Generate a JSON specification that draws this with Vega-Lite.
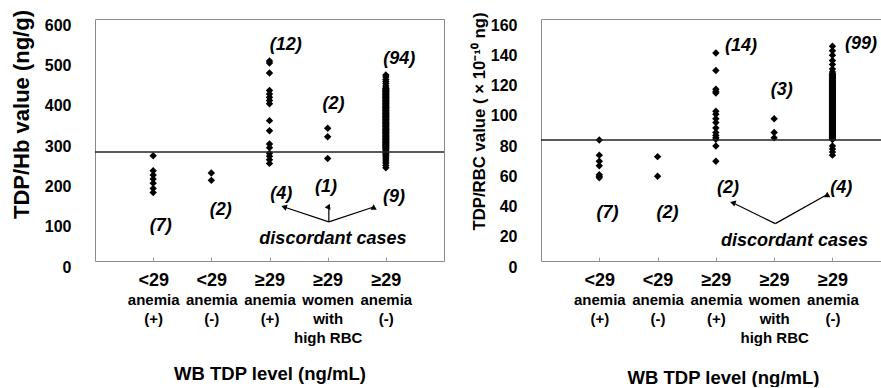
{
  "$schema": "https://vega.github.io/schema/vega-lite/v6.json",
  "padding": {"left": 9, "top": 9, "right": 0, "bottom": 0},
  "background": "white",
  "config": {
    "font": "Liberation Sans",
    "view": {"stroke": "#8a8a8a", "strokeWidth": 1},
    "axisY": {"labelFontSize": 16, "labelFontWeight": "bold", "labelColor": "black", "ticks": false, "domain": false, "grid": false, "labelPadding": 24, "labelOffset": 6, "labelOverlap": false, "labelFlush": false, "labelBound": false, "titleFontWeight": "bold", "titleColor": "black"}
  },
  "bounds": "flush",
  "spacing": 97,
  "datasets": {
    "lp": [
      {"g": 1, "v": 261}, {"g": 1, "v": 224}, {"g": 1, "v": 213}, {"g": 1, "v": 203}, {"g": 1, "v": 193}, {"g": 1, "v": 180}, {"g": 1, "v": 170},
      {"g": 2, "v": 218}, {"g": 2, "v": 200},
      {"g": 3, "v": 496}, {"g": 3, "v": 491}, {"g": 3, "v": 466}, {"g": 3, "v": 423}, {"g": 3, "v": 414}, {"g": 3, "v": 406}, {"g": 3, "v": 398}, {"g": 3, "v": 390}, {"g": 3, "v": 348}, {"g": 3, "v": 323}, {"g": 3, "v": 290}, {"g": 3, "v": 281}, {"g": 3, "v": 267}, {"g": 3, "v": 260}, {"g": 3, "v": 251}, {"g": 3, "v": 242},
      {"g": 4, "v": 329}, {"g": 4, "v": 308}, {"g": 4, "v": 254},
      {"g": 5, "v": 461}, {"g": 5, "v": 456}, {"g": 5, "v": 450}, {"g": 5, "v": 445}, {"g": 5, "v": 440}, {"g": 5, "v": 434},
      {"g": 5, "v": 429}, {"g": 5, "v": 427}, {"g": 5, "v": 426}, {"g": 5, "v": 424}, {"g": 5, "v": 422}, {"g": 5, "v": 420}, {"g": 5, "v": 419}, {"g": 5, "v": 417}, {"g": 5, "v": 415}, {"g": 5, "v": 413},
      {"g": 5, "v": 412}, {"g": 5, "v": 410}, {"g": 5, "v": 408}, {"g": 5, "v": 406}, {"g": 5, "v": 405}, {"g": 5, "v": 403}, {"g": 5, "v": 401}, {"g": 5, "v": 399}, {"g": 5, "v": 397}, {"g": 5, "v": 396},
      {"g": 5, "v": 394}, {"g": 5, "v": 392}, {"g": 5, "v": 390}, {"g": 5, "v": 389}, {"g": 5, "v": 387}, {"g": 5, "v": 385}, {"g": 5, "v": 383}, {"g": 5, "v": 381}, {"g": 5, "v": 380}, {"g": 5, "v": 378},
      {"g": 5, "v": 376}, {"g": 5, "v": 374}, {"g": 5, "v": 373}, {"g": 5, "v": 371}, {"g": 5, "v": 369}, {"g": 5, "v": 367}, {"g": 5, "v": 366}, {"g": 5, "v": 364}, {"g": 5, "v": 362}, {"g": 5, "v": 360},
      {"g": 5, "v": 358}, {"g": 5, "v": 357}, {"g": 5, "v": 355}, {"g": 5, "v": 353}, {"g": 5, "v": 351}, {"g": 5, "v": 350}, {"g": 5, "v": 348}, {"g": 5, "v": 346}, {"g": 5, "v": 344}, {"g": 5, "v": 342},
      {"g": 5, "v": 341}, {"g": 5, "v": 339}, {"g": 5, "v": 337}, {"g": 5, "v": 335}, {"g": 5, "v": 334}, {"g": 5, "v": 332}, {"g": 5, "v": 330}, {"g": 5, "v": 328}, {"g": 5, "v": 326}, {"g": 5, "v": 325},
      {"g": 5, "v": 323}, {"g": 5, "v": 321}, {"g": 5, "v": 319}, {"g": 5, "v": 318}, {"g": 5, "v": 316}, {"g": 5, "v": 314}, {"g": 5, "v": 312}, {"g": 5, "v": 310}, {"g": 5, "v": 309}, {"g": 5, "v": 307},
      {"g": 5, "v": 305}, {"g": 5, "v": 303}, {"g": 5, "v": 302}, {"g": 5, "v": 300}, {"g": 5, "v": 298}, {"g": 5, "v": 296}, {"g": 5, "v": 294}, {"g": 5, "v": 293}, {"g": 5, "v": 291}, {"g": 5, "v": 289},
      {"g": 5, "v": 287}, {"g": 5, "v": 286}, {"g": 5, "v": 284}, {"g": 5, "v": 282}, {"g": 5, "v": 280}, {"g": 5, "v": 278}, {"g": 5, "v": 276}, {"g": 5, "v": 273},
      {"g": 5, "v": 268}, {"g": 5, "v": 265}, {"g": 5, "v": 262}, {"g": 5, "v": 258}, {"g": 5, "v": 253}, {"g": 5, "v": 248}, {"g": 5, "v": 243}, {"g": 5, "v": 237}, {"g": 5, "v": 231}
    ],
    "rp": [
      {"g": 1, "v": 80}, {"g": 1, "v": 70}, {"g": 1, "v": 66}, {"g": 1, "v": 63}, {"g": 1, "v": 57}, {"g": 1, "v": 56}, {"g": 1, "v": 55},
      {"g": 2, "v": 69}, {"g": 2, "v": 56},
      {"g": 3, "v": 137.5}, {"g": 3, "v": 126}, {"g": 3, "v": 113.5}, {"g": 3, "v": 112}, {"g": 3, "v": 111}, {"g": 3, "v": 99}, {"g": 3, "v": 97}, {"g": 3, "v": 94}, {"g": 3, "v": 91.5}, {"g": 3, "v": 88}, {"g": 3, "v": 85}, {"g": 3, "v": 83}, {"g": 3, "v": 81.5}, {"g": 3, "v": 80.5}, {"g": 3, "v": 76}, {"g": 3, "v": 66},
      {"g": 4, "v": 94}, {"g": 4, "v": 85}, {"g": 4, "v": 81.5},
      {"g": 5, "v": 142}, {"g": 5, "v": 139}, {"g": 5, "v": 136}, {"g": 5, "v": 132.5}, {"g": 5, "v": 130}, {"g": 5, "v": 127}, {"g": 5, "v": 125},
      {"g": 5, "v": 123.8}, {"g": 5, "v": 123.3}, {"g": 5, "v": 122.9}, {"g": 5, "v": 122.3}, {"g": 5, "v": 121.9}, {"g": 5, "v": 121.2}, {"g": 5, "v": 120.8}, {"g": 5, "v": 120.3}, {"g": 5, "v": 119.7}, {"g": 5, "v": 119.2},
      {"g": 5, "v": 118.8}, {"g": 5, "v": 118.3}, {"g": 5, "v": 117.9}, {"g": 5, "v": 117.4}, {"g": 5, "v": 116.8}, {"g": 5, "v": 116.4}, {"g": 5, "v": 115.9}, {"g": 5, "v": 115.5}, {"g": 5, "v": 114.9}, {"g": 5, "v": 114.5},
      {"g": 5, "v": 114.1}, {"g": 5, "v": 113.6}, {"g": 5, "v": 113.1}, {"g": 5, "v": 112.7}, {"g": 5, "v": 112.2}, {"g": 5, "v": 111.8}, {"g": 5, "v": 111.3}, {"g": 5, "v": 110.9}, {"g": 5, "v": 110.4}, {"g": 5, "v": 109.9},
      {"g": 5, "v": 109.5}, {"g": 5, "v": 109.1}, {"g": 5, "v": 108.6}, {"g": 5, "v": 108.2}, {"g": 5, "v": 107.7}, {"g": 5, "v": 107.2}, {"g": 5, "v": 106.8}, {"g": 5, "v": 106.3}, {"g": 5, "v": 105.9}, {"g": 5, "v": 105.4},
      {"g": 5, "v": 104.9}, {"g": 5, "v": 104.5}, {"g": 5, "v": 104.1}, {"g": 5, "v": 103.6}, {"g": 5, "v": 103.2}, {"g": 5, "v": 102.7}, {"g": 5, "v": 102.3}, {"g": 5, "v": 101.8}, {"g": 5, "v": 101.4}, {"g": 5, "v": 100.9},
      {"g": 5, "v": 100.4}, {"g": 5, "v": 100}, {"g": 5, "v": 99.5}, {"g": 5, "v": 99.1}, {"g": 5, "v": 98.6}, {"g": 5, "v": 98.2}, {"g": 5, "v": 97.7}, {"g": 5, "v": 97.3}, {"g": 5, "v": 96.8}, {"g": 5, "v": 96.4},
      {"g": 5, "v": 95.9}, {"g": 5, "v": 95.5}, {"g": 5, "v": 95}, {"g": 5, "v": 94.6}, {"g": 5, "v": 94.1}, {"g": 5, "v": 93.7}, {"g": 5, "v": 93.2}, {"g": 5, "v": 92.8}, {"g": 5, "v": 92.3}, {"g": 5, "v": 91.9},
      {"g": 5, "v": 91.4}, {"g": 5, "v": 91}, {"g": 5, "v": 90.5}, {"g": 5, "v": 90.1}, {"g": 5, "v": 89.6}, {"g": 5, "v": 89.2}, {"g": 5, "v": 88.7}, {"g": 5, "v": 88.3}, {"g": 5, "v": 87.8}, {"g": 5, "v": 87.4},
      {"g": 5, "v": 86.9}, {"g": 5, "v": 86.5}, {"g": 5, "v": 86}, {"g": 5, "v": 85.6}, {"g": 5, "v": 85.1}, {"g": 5, "v": 84.7}, {"g": 5, "v": 84.2}, {"g": 5, "v": 83.8}, {"g": 5, "v": 83.3}, {"g": 5, "v": 82.9},
      {"g": 5, "v": 82.4}, {"g": 5, "v": 82}, {"g": 5, "v": 81.6}, {"g": 5, "v": 81.1}, {"g": 5, "v": 80.7}, {"g": 5, "v": 80.3},
      {"g": 5, "v": 76}, {"g": 5, "v": 74}, {"g": 5, "v": 72}, {"g": 5, "v": 70}
    ],
    "lt": [{"v": 270}],
    "rt": [{"v": 80}],
    "ln": [
      {"g": 1.13, "v": 87, "t": "(7)"}, {"g": 2.16, "v": 127, "t": "(2)"}, {"g": 3.28, "v": 536, "t": "(12)"},
      {"g": 4.1, "v": 390, "t": "(2)"}, {"g": 5.23, "v": 501, "t": "(94)"}, {"g": 3.2, "v": 166, "t": "(4)"},
      {"g": 3.97, "v": 184, "t": "(1)"}, {"g": 5.14, "v": 159, "t": "(9)"}, {"g": 4.09, "v": 54, "t": "discordant cases"}
    ],
    "rn": [
      {"g": 1.14, "v": 31.8, "t": "(7)"}, {"g": 2.17, "v": 31.8, "t": "(2)"}, {"g": 3.43, "v": 142.4, "t": "(14)"},
      {"g": 4.13, "v": 113, "t": "(3)"}, {"g": 5.49, "v": 143.5, "t": "(99)"}, {"g": 3.21, "v": 48, "t": "(2)"},
      {"g": 5.15, "v": 48, "t": "(4)"}, {"g": 4.35, "v": 13.1, "t": "discordant cases"}
    ],
    "la": [
      {"x0": 4.02, "y0": 97, "x1": 3.25, "y1": 134, "dir": "l"},
      {"x0": 4.02, "y0": 97, "x1": 4.02, "y1": 132, "dir": "u"},
      {"x0": 4.02, "y0": 97, "x1": 4.79, "y1": 134, "dir": "r"}
    ],
    "ra": [
      {"x0": 4.02, "y0": 24.7, "x1": 3.29, "y1": 38.5, "dir": "l"},
      {"x0": 4.02, "y0": 24.7, "x1": 4.91, "y1": 44, "dir": "r"}
    ]
  },
  "hconcat": [
    {
      "width": 349,
      "height": 242,
      "layer": [
        {
          "data": {"name": "lp"},
          "mark": {"type": "point", "shape": "diamond", "filled": true, "size": 55, "color": "black", "opacity": 1},
          "encoding": {
            "x": {"field": "g", "type": "quantitative", "scale": {"domain": [0, 6], "nice": false},
              "axis": {"orient": "bottom", "values": [1, 2, 3, 4, 5], "labelExpr": "datum.value <= 2 ? '<29' : '≥29'", "labelFontSize": 18, "labelFontWeight": "bold", "labelColor": "black", "labelPadding": 10, "ticks": false, "domain": false, "grid": false, "title": null, "labelFlush": false, "labelOverlap": false, "labelBound": false}},
            "y": {"field": "v", "type": "quantitative", "scale": {"domain": [0, 600], "nice": false},
              "axis": {"values": [0, 100, 200, 300, 400, 500, 600], "labelOverlap": false, "title": "TDP/Hb value (ng/g)", "titleFontSize": 22, "titleX": -62, "titleY": 95}}
          }
        },
        {
          "data": {"name": "lt"},
          "mark": {"type": "rule", "color": "#222222", "strokeWidth": 1.5},
          "encoding": {"y": {"field": "v", "type": "quantitative", "axis": {"values": [0, 100, 200, 300, 400, 500, 600], "labelOverlap": false, "title": "TDP/Hb value (ng/g)", "titleFontSize": 22, "titleX": -62, "titleY": 95}}}
        },
        {
          "data": {"name": "ln"},
          "mark": {"type": "text", "fontStyle": "italic", "fontWeight": "bold", "fontSize": 18, "color": "black", "align": "center", "baseline": "middle"},
          "encoding": {
            "x": {"field": "g", "type": "quantitative",
              "axis": {"orient": "bottom", "values": [1, 2, 3, 4, 5], "labelExpr": "datum.value == 1 ? ['anemia','(+)'] : datum.value == 2 ? ['anemia','(-)'] : datum.value == 3 ? ['anemia','(+)'] : datum.value == 4 ? ['women','with','high RBC'] : ['anemia','(-)']", "labelFontSize": 15, "labelFontWeight": "bold", "labelColor": "black", "labelLineHeight": 19, "labelPadding": 35, "ticks": true, "tickSize": -4, "tickColor": "#999999", "domain": false, "grid": false, "labelFlush": false, "labelOverlap": false, "labelBound": false, "title": "WB TDP level (ng/mL)", "titleFontSize": 18.5, "titleFontWeight": "bold", "titleColor": "black", "titleY": 103, "titleBaseline": "top"}},
            "y": {"field": "v", "type": "quantitative", "axis": {"values": [0, 100, 200, 300, 400, 500, 600], "labelOverlap": false, "title": "TDP/Hb value (ng/g)", "titleFontSize": 22, "titleX": -62, "titleY": 95}},
            "text": {"field": "t"}
          }
        },
        {
          "data": {"name": "la"},
          "mark": {"type": "rule", "color": "black", "strokeWidth": 1.2},
          "encoding": {
            "x": {"field": "x0", "type": "quantitative", "axis": null},
            "y": {"field": "y0", "type": "quantitative", "axis": {"values": [0, 100, 200, 300, 400, 500, 600], "labelOverlap": false, "title": "TDP/Hb value (ng/g)", "titleFontSize": 22, "titleX": -62, "titleY": 95}},
            "x2": {"field": "x1"},
            "y2": {"field": "y1"}
          }
        },
        {
          "data": {"name": "la"},
          "mark": {"type": "point", "shape": "triangle-up", "filled": true, "size": 40, "color": "black", "opacity": 1},
          "encoding": {
            "x": {"field": "x1", "type": "quantitative", "axis": null},
            "y": {"field": "y1", "type": "quantitative", "axis": {"values": [0, 100, 200, 300, 400, 500, 600], "labelOverlap": false, "title": "TDP/Hb value (ng/g)", "titleFontSize": 22, "titleX": -62, "titleY": 95}},
            "angle": {"field": "dir", "type": "nominal", "scale": {"domain": ["l", "u", "r"], "range": [288, 0, 72]}, "legend": null}
          }
        }
      ],
      "resolve": {"axis": {"x": "independent"}}
    },
    {
      "width": 341,
      "height": 242,
      "layer": [
        {
          "data": {"name": "rp"},
          "mark": {"type": "point", "shape": "diamond", "filled": true, "size": 55, "color": "black", "opacity": 1},
          "encoding": {
            "x": {"field": "g", "type": "quantitative", "scale": {"domain": [0, 5.85], "nice": false},
              "axis": {"orient": "bottom", "values": [1, 2, 3, 4, 5], "labelExpr": "datum.value <= 2 ? '<29' : '≥29'", "labelFontSize": 18, "labelFontWeight": "bold", "labelColor": "black", "labelPadding": 10, "ticks": false, "domain": false, "grid": false, "title": null, "labelFlush": false, "labelOverlap": false, "labelBound": false}},
            "y": {"field": "v", "type": "quantitative", "scale": {"domain": [0, 160], "nice": false},
              "axis": {"values": [0, 20, 40, 60, 80, 100, 120, 140, 160], "labelOverlap": false, "title": "TDP/RBC value ( × 10⁻¹⁰ ng)", "titleFontSize": 16.75, "titleX": -53, "titleY": 102}}
          }
        },
        {
          "data": {"name": "rt"},
          "mark": {"type": "rule", "color": "#222222", "strokeWidth": 1.5},
          "encoding": {"y": {"field": "v", "type": "quantitative", "axis": {"values": [0, 20, 40, 60, 80, 100, 120, 140, 160], "labelOverlap": false, "title": "TDP/RBC value ( × 10⁻¹⁰ ng)", "titleFontSize": 16.75, "titleX": -53, "titleY": 102}}}
        },
        {
          "data": {"name": "rn"},
          "mark": {"type": "text", "fontStyle": "italic", "fontWeight": "bold", "fontSize": 18, "color": "black", "align": "center", "baseline": "middle"},
          "encoding": {
            "x": {"field": "g", "type": "quantitative",
              "axis": {"orient": "bottom", "values": [1, 2, 3, 4, 5], "labelExpr": "datum.value == 1 ? ['anemia','(+)'] : datum.value == 2 ? ['anemia','(-)'] : datum.value == 3 ? ['anemia','(+)'] : datum.value == 4 ? ['women','with','high RBC'] : ['anemia','(-)']", "labelFontSize": 15, "labelFontWeight": "bold", "labelColor": "black", "labelLineHeight": 19, "labelPadding": 35, "ticks": true, "tickSize": -4, "tickColor": "#999999", "domain": false, "grid": false, "labelFlush": false, "labelOverlap": false, "labelBound": false, "title": "WB TDP level (ng/mL)", "titleFontSize": 18.5, "titleFontWeight": "bold", "titleColor": "black", "titleX": 182, "titleY": 107, "titleBaseline": "top"}},
            "y": {"field": "v", "type": "quantitative", "axis": {"values": [0, 20, 40, 60, 80, 100, 120, 140, 160], "labelOverlap": false, "title": "TDP/RBC value ( × 10⁻¹⁰ ng)", "titleFontSize": 16.75, "titleX": -53, "titleY": 102}},
            "text": {"field": "t"}
          }
        },
        {
          "data": {"name": "ra"},
          "mark": {"type": "rule", "color": "black", "strokeWidth": 1.2},
          "encoding": {
            "x": {"field": "x0", "type": "quantitative", "axis": null},
            "y": {"field": "y0", "type": "quantitative", "axis": {"values": [0, 20, 40, 60, 80, 100, 120, 140, 160], "labelOverlap": false, "title": "TDP/RBC value ( × 10⁻¹⁰ ng)", "titleFontSize": 16.75, "titleX": -53, "titleY": 102}},
            "x2": {"field": "x1"},
            "y2": {"field": "y1"}
          }
        },
        {
          "data": {"name": "ra"},
          "mark": {"type": "point", "shape": "triangle-up", "filled": true, "size": 40, "color": "black", "opacity": 1},
          "encoding": {
            "x": {"field": "x1", "type": "quantitative", "axis": null},
            "y": {"field": "y1", "type": "quantitative", "axis": {"values": [0, 20, 40, 60, 80, 100, 120, 140, 160], "labelOverlap": false, "title": "TDP/RBC value ( × 10⁻¹⁰ ng)", "titleFontSize": 16.75, "titleX": -53, "titleY": 102}},
            "angle": {"field": "dir", "type": "nominal", "scale": {"domain": ["l", "r"], "range": [296, 61]}, "legend": null}
          }
        }
      ],
      "resolve": {"axis": {"x": "independent"}}
    }
  ]
}
